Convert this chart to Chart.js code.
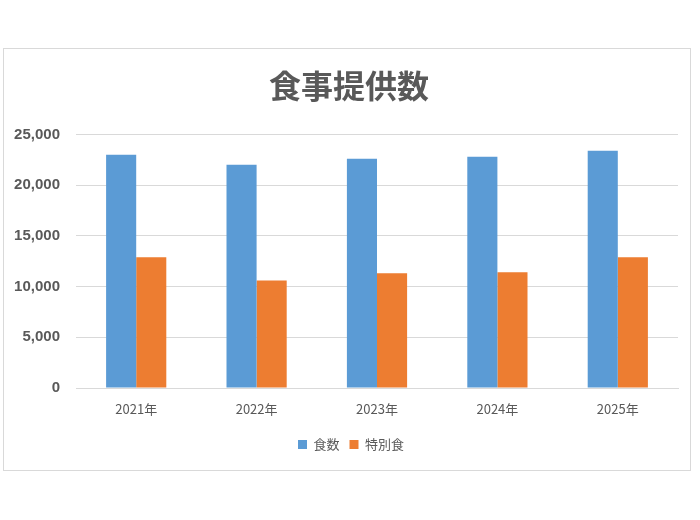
<!DOCTYPE html>
<html>
<head>
<meta charset="utf-8">
<script src="https://cdn.jsdelivr.net/npm/chart.js@4"></script>
<style>
  body { margin: 0; background: #fff; }
  #box {
    position: absolute; left: 3px; top: 48px;
    width: 686px; height: 421px;
    border: 1px solid #d9d9d9;
  }
</style>
</head>
<body>
<div id="box"><canvas id="mealChart" width="686" height="421"></canvas></div>
<script>
const years = ['2021年', '2022年', '2023年', '2024年', '2025年'];
const mealCounts = [23000, 22000, 22600, 22800, 23400];
const specialCounts = [12900, 10600, 11300, 11400, 12900];
const yTicks = [0, 5000, 10000, 15000, 20000, 25000];

const textColor = '#595959';
const jpFont = '"Noto Sans CJK JP", "Noto Sans", sans-serif';

// nudge title and legend a little right, like the original sheet
const nudgeBoxes = {
  id: 'nudgeBoxes',
  afterLayout(chart) {
    if (chart.titleBlock) {
      chart.titleBlock.left += 4;
      chart.titleBlock.right += 4;
    }
    if (chart.legend) {
      chart.legend.left += 6;
      chart.legend.right += 6;
    }
  }
};

const ctx = document.getElementById('mealChart').getContext('2d');
new Chart(ctx, {
  type: 'bar',
  data: {
    labels: years,
    datasets: [
      {
        label: '食数',
        data: mealCounts,
        backgroundColor: '#5b9bd5',
        categoryPercentage: 0.5,
        barPercentage: 1.0
      },
      {
        label: '特別食',
        data: specialCounts,
        backgroundColor: '#ed7d31',
        categoryPercentage: 0.5,
        barPercentage: 1.0
      }
    ]
  },
  options: {
    responsive: false,
    animation: false,
    layout: { padding: { left: 8, right: 12, top: 0, bottom: 9 } },
    plugins: {
      title: {
        display: true,
        text: '食事提供数',
        color: textColor,
        font: { family: jpFont, size: 32, weight: 'bold' },
        padding: { top: 18, bottom: 29 }
      },
      legend: {
        position: 'bottom',
        labels: {
          color: textColor,
          font: { family: jpFont, size: 13 },
          boxWidth: 9,
          boxHeight: 9,
          padding: 10
        }
      },
      tooltip: { enabled: false }
    },
    scales: {
      x: {
        grid: { display: false, drawTicks: false },
        border: { color: '#d9d9d9' },
        ticks: {
          color: textColor,
          font: { family: jpFont, size: 13 },
          padding: 13
        },
        afterFit: scale => { scale.height = 40; }
      },
      y: {
        min: 0,
        max: 25000,
        afterBuildTicks: axis => {
          axis.ticks = yTicks.map(v => ({ value: v }));
        },
        afterFit: scale => { scale.width = 64; },
        grid: { color: '#d9d9d9', drawTicks: false },
        border: { display: false },
        ticks: {
          color: textColor,
          font: { family: '"Liberation Sans", Arial, sans-serif', size: 15, weight: 'bold' },
          padding: 16,
          callback: v => v.toLocaleString('en-US')
        }
      }
    }
  },
  plugins: [nudgeBoxes]
});
</script>
</body>
</html>
